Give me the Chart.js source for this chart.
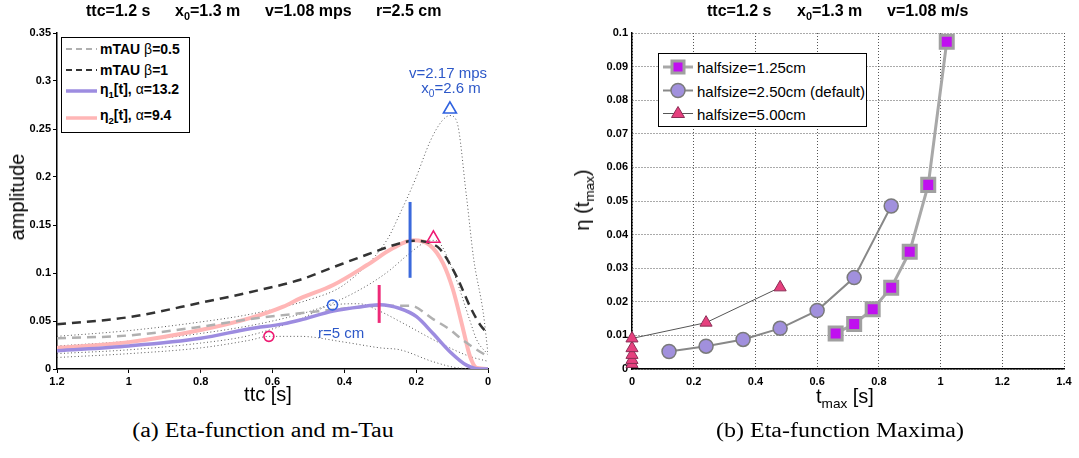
<!DOCTYPE html>
<html>
<head>
<meta charset="utf-8">
<title>Eta-function and m-Tau</title>
<script src="https://cdn.jsdelivr.net/npm/chart.js@4.4.1/dist/chart.umd.min.js"></script>
<style>
  body { margin: 0; background: #fff; }
  #page { position: relative; width: 1079px; height: 458px; overflow: hidden; font-family: "Liberation Sans", Arial, sans-serif; color: #000; }
  .pane { position: absolute; top: 0; height: 400px; }
  .t { position: absolute; white-space: nowrap; line-height: 1; }
  .hd { top: 3px; font-weight: bold; font-size: 16px; }
  sub { font-size: 0.68em; vertical-align: -0.4em; line-height: 0; }
  .leg { position: absolute; border: 1.5px solid #000; background: #fff; box-sizing: border-box; }
  .lt { position: absolute; white-space: nowrap; transform: translateY(-50%); line-height: 1; }
  .ax { position: absolute; font-size: 20px; white-space: nowrap; line-height: 1; }
  .cap { position: absolute; top: 419px; font-family: "Liberation Serif", serif; font-size: 20px; transform: translateX(-50%) scaleX(1.2); white-space: nowrap; }
  svg { position: absolute; left: 0; top: 0; }
</style>
</head>
<body>
<div id="page">
  <div class="pane" style="left:0;width:540px"><canvas id="etaChart"></canvas></div>
  <div class="pane" style="left:540px;width:539px"><canvas id="maxChart"></canvas></div>

  <!-- titles -->
  <div class="t hd" style="left:86px">ttc=1.2 s</div>
  <div class="t hd" style="left:175px">x<sub>0</sub>=1.3 m</div>
  <div class="t hd" style="left:265px">v=1.08 mps</div>
  <div class="t hd" style="left:376px">r=2.5 cm</div>
  <div class="t hd" style="left:707px">ttc=1.2 s</div>
  <div class="t hd" style="left:797px">x<sub>0</sub>=1.3 m</div>
  <div class="t hd" style="left:887px">v=1.08 m/s</div>

  <!-- axis titles -->
  <div class="ax" style="left:17px;top:197px;transform:translate(-50%,-50%) rotate(-90deg)">amplitude</div>
  <div class="ax" style="left:268px;top:394px;transform:translate(-50%,-50%)">ttc [s]</div>
  <div class="ax" style="left:582px;top:200px;transform:translate(-50%,-50%) rotate(-90deg)">η (t<sub>max</sub>)</div>
  <div class="ax" style="left:816px;top:386px">t<sub>max</sub> [s]</div>

  <!-- annotations in left panel -->
  <div class="t" style="left:448px;top:65px;transform:translateX(-50%);font-size:15px;color:#2d58c8">v=2.17 mps</div>
  <div class="t" style="left:451px;top:80px;transform:translateX(-50%);font-size:15px;color:#2d58c8">x<sub>0</sub>=2.6 m</div>
  <div class="t" style="left:318px;top:325px;font-size:15px;color:#2d58c8">r=5 cm</div>

  <!-- left legend -->
  <div class="leg" style="left:61px;top:37px;width:129px;height:96px"></div>
  <svg width="200" height="140">
    <line x1="66" y1="49" x2="97" y2="49" stroke="#b0b0b0" stroke-width="2" stroke-dasharray="6,4"/>
    <line x1="66" y1="70" x2="97" y2="70" stroke="#333" stroke-width="2" stroke-dasharray="6,4"/>
    <line x1="66" y1="91" x2="97" y2="91" stroke="#9d8ce0" stroke-width="3.5"/>
    <line x1="66" y1="118" x2="97" y2="118" stroke="#ffb6b6" stroke-width="3.5"/>
  </svg>
  <div class="lt" style="left:100px;top:49px;font-size:14px;font-weight:bold">mTAU <span style="font-weight:normal">β</span>=0.5</div>
  <div class="lt" style="left:100px;top:70px;font-size:14px;font-weight:bold">mTAU <span style="font-weight:normal">β</span>=1</div>
  <div class="lt" style="left:100px;top:89px;font-size:14px;font-weight:bold">η<sub>1</sub>[t], <span style="font-weight:normal">α</span>=13.2</div>
  <div class="lt" style="left:100px;top:115px;font-size:14px;font-weight:bold">η<sub>2</sub>[t], <span style="font-weight:normal">α</span>=9.4</div>

  <!-- right legend -->
  <div class="leg" style="left:658px;top:53px;width:209px;height:74px"></div>
  <svg width="1079" height="140">
    <line x1="663" y1="67" x2="693" y2="67" stroke="#a8a8a8" stroke-width="3"/>
    <rect x="672" y="61" width="12" height="12" fill="#c010f0" stroke="#a0a0a0" stroke-width="3"/>
    <line x1="663" y1="90.5" x2="693" y2="90.5" stroke="#888" stroke-width="2"/>
    <circle cx="678" cy="90.5" r="7" fill="#a190dd" stroke="#7a7a7a" stroke-width="1.5"/>
    <line x1="663" y1="113.5" x2="693" y2="113.5" stroke="#555" stroke-width="1"/>
    <polygon points="678,106.5 684.5,117.5 671.5,117.5" fill="#e6407e" stroke="#8b2d55" stroke-width="1"/>
  </svg>
  <div class="lt" style="left:697px;top:67px;font-size:15px">halfsize=1.25cm</div>
  <div class="lt" style="left:697px;top:90.5px;font-size:15px">halfsize=2.50cm (default)</div>
  <div class="lt" style="left:697px;top:113.5px;font-size:15px">halfsize=5.00cm</div>

  <!-- captions -->
  <div class="cap" style="left:263px">(a) Eta-function and m-Tau</div>
  <div class="cap" style="left:840px">(b) Eta-function Maxima)</div>
</div>

<script>
// ---- левая панель: eta-функции и m-Tau (ttc [s] -> amplitude) ----
const tTau05 = [1.2, 1.0, 0.8, 0.663, 0.5, 0.4, 0.3, 0.217, 0.153, 0.106, 0.07, 0.035, 0.0];
const mTau05 = [0.032, 0.035, 0.044, 0.052, 0.059, 0.063, 0.066, 0.066, 0.052, 0.041, 0.030, 0.021, 0.013];

const tTau1 = [1.2, 1.0, 0.8, 0.663, 0.523, 0.431, 0.338, 0.245, 0.208, 0.16, 0.134, 0.087, 0.05, 0.02, 0.0];
const mTau1 = [0.0465, 0.054, 0.069, 0.080, 0.093, 0.106, 0.119, 0.131, 0.1335, 0.131, 0.125, 0.096, 0.065, 0.045, 0.037];

const tEta1 = [1.2, 1.0, 0.8, 0.663, 0.57, 0.523, 0.431, 0.338, 0.301, 0.245, 0.199, 0.153, 0.106, 0.06, 0.022, 0.0];
const eta1 = [0.019, 0.024, 0.032, 0.042, 0.047, 0.051, 0.0605, 0.0656, 0.067, 0.063, 0.0545, 0.037, 0.018, 0.004, 0.0, 0.0];

const tEta2 = [1.2, 1.0, 0.8, 0.663, 0.57, 0.523, 0.431, 0.338, 0.264, 0.208, 0.162, 0.125, 0.097, 0.069, 0.05, 0.031, 0.0];
const eta2 = [0.022, 0.028, 0.0406, 0.053, 0.065, 0.0736, 0.0875, 0.108, 0.126, 0.134, 0.129, 0.110, 0.082, 0.041, 0.013, 0.001, 0.0];

// тонкие пунктирные кривые (другие параметры)
const tDotA = [1.2, 1.0, 0.8, 0.663, 0.5, 0.4, 0.282, 0.245, 0.203, 0.16, 0.129, 0.106, 0.087, 0.06, 0.04, 0.013, 0.0];
const dotA = [0.034, 0.04, 0.049, 0.057, 0.072, 0.088, 0.134, 0.162, 0.197, 0.238, 0.258, 0.264, 0.258, 0.18, 0.115, 0.058, 0.016];
const tDotB = [1.2, 1.0, 0.8, 0.6, 0.45, 0.35, 0.28, 0.22, 0.18, 0.152, 0.134, 0.1, 0.078, 0.05, 0.031, 0.0];
const dotB = [0.024, 0.029, 0.037, 0.05, 0.066, 0.084, 0.101, 0.12, 0.131, 0.134, 0.131, 0.105, 0.082, 0.05, 0.03, 0.015];
const tDotC = [1.2, 1.0, 0.8, 0.663, 0.523, 0.433, 0.36, 0.3, 0.238, 0.134, 0.05, 0.0];
const dotC = [0.016, 0.02, 0.027, 0.035, 0.052, 0.0667, 0.068, 0.06, 0.048, 0.027, 0.013, 0.008];
const tDotD = [1.2, 1.0, 0.8, 0.663, 0.61, 0.523, 0.4, 0.3, 0.245, 0.153, 0.08, 0.0];
const dotD = [0.012, 0.016, 0.022, 0.03, 0.034, 0.034, 0.028, 0.022, 0.02, 0.0076, 0.001, 0.0];

// отметки: вертикальные отрезки и маркеры
const blueBarT = [0.217, 0.217];
const blueBar = [0.095, 0.174];
const pinkBarT = [0.303, 0.303];
const pinkBar = [0.048, 0.0875];
const triT = [0.106, 0.152];
const triA = [0.2705, 0.136];
const circT = [0.433, 0.61];
const circA = [0.0667, 0.034];

// ---- правая панель: максимумы eta-функции ----
const tMaxS = [0.66, 0.72, 0.78, 0.84, 0.90, 0.96, 1.02];
const etaMaxS = [0.0106, 0.0134, 0.0178, 0.0242, 0.0349, 0.0548, 0.0974];
const tMaxM = [0.12, 0.24, 0.36, 0.48, 0.60, 0.72, 0.84];
const etaMaxM = [0.0052, 0.0068, 0.0088, 0.0121, 0.0174, 0.0272, 0.0485];
const tMaxL = [0, 0, 0, 0, 0, 0.24, 0.48];
const etaMaxL = [0.0015, 0.0027, 0.0042, 0.0062, 0.0091, 0.0138, 0.0243];

const xTicksLeft = [0, 0.2, 0.4, 0.6, 0.8, 1, 1.2];
const yTicksLeft = [0, 0.05, 0.1, 0.15, 0.2, 0.25, 0.3, 0.35];

Chart.defaults.font.family = '"Liberation Sans", Arial, sans-serif';
Chart.defaults.animation = false;

function pts(xs, ys) {
    return xs.map((x, i) => ({ x: x, y: ys[i] }));
}

function fmt(v) {
    return String(+v.toFixed(3));
}

const tickFont = { size: 11, weight: 'bold' };

function curve(xs, ys, color, width, dash, order) {
    return {
        data: pts(xs, ys),
        borderColor: color,
        borderWidth: width,
        borderDash: dash || [],
        pointRadius: 0,
        fill: false,
        cubicInterpolationMode: 'monotone',
        order: order
    };
}

function markers(xs, ys, style, radius, colors) {
    return {
        data: pts(xs, ys),
        showLine: false,
        pointStyle: style,
        pointRadius: radius,
        pointBackgroundColor: 'rgba(0,0,0,0)',
        pointBorderColor: colors,
        pointBorderWidth: 1.6,
        clip: false,
        order: 1
    };
}

// левый график
new Chart(document.getElementById('etaChart'), {
    type: 'line',
    data: {
        datasets: [
            curve(tDotA, dotA, '#555', 1, [1, 2.5], 10),
            curve(tDotB, dotB, '#555', 1, [1, 2.5], 10),
            curve(tDotC, dotC, '#555', 1, [1, 2.5], 10),
            curve(tDotD, dotD, '#555', 1, [1, 2.5], 10),
            curve(tEta2, eta2, '#ffb6b6', 4, null, 8),
            curve(tTau05, mTau05, '#b0b0b0', 2.5, [9, 6], 7),
            curve(tEta1, eta1, '#9d8ce0', 3.5, null, 6),
            curve(tTau1, mTau1, '#333333', 2.5, [9, 6], 5),
            curve(blueBarT, blueBar, '#3b69dc', 3, null, 2),
            curve(pinkBarT, pinkBar, '#ee2a78', 3, null, 2),
            markers(triT, triA, 'triangle', 7.5, ['#2f62e0', '#ee1a72']),
            markers(circT, circA, 'circle', 5, ['#2f62e0', '#ee1a72'])
        ]
    },
    options: {
        responsive: true,
        maintainAspectRatio: false,
        events: [],
        layout: { padding: { top: 33, right: 52, left: 0, bottom: 0 } },
        plugins: { legend: { display: false }, tooltip: { enabled: false } },
        scales: {
            x: {
                type: 'linear',
                reverse: true,
                min: 0,
                max: 1.2,
                afterBuildTicks: s => { s.ticks = xTicksLeft.map(v => ({ value: v })); },
                ticks: { color: '#000', font: tickFont, callback: fmt, maxRotation: 0, padding: 2 },
                grid: { drawOnChartArea: false, color: '#000', tickLength: 4 },
                border: { color: '#000', width: 1.5 },
                afterFit: s => { s.height = 31; }
            },
            y: {
                min: 0,
                max: 0.35,
                afterBuildTicks: s => { s.ticks = yTicksLeft.map(v => ({ value: v })); },
                ticks: { color: '#000', font: tickFont, callback: fmt, padding: 2 },
                grid: { drawOnChartArea: false, color: '#000', tickLength: 4 },
                border: { color: '#000', width: 1.5 },
                afterFit: s => { s.width = 57; }
            }
        }
    }
});

// правый график
new Chart(document.getElementById('maxChart'), {
    type: 'line',
    data: {
        datasets: [
            {
                label: 'halfsize=1.25cm',
                data: pts(tMaxS, etaMaxS),
                borderColor: '#a8a8a8',
                borderWidth: 3,
                pointStyle: 'rect',
                pointRadius: 9.2,
                pointBackgroundColor: '#c010f0',
                pointBorderColor: '#a0a0a0',
                pointBorderWidth: 3,
                clip: false,
                order: 1
            },
            {
                label: 'halfsize=2.50cm (default)',
                data: pts(tMaxM, etaMaxM),
                borderColor: '#888888',
                borderWidth: 2,
                pointStyle: 'circle',
                pointRadius: 7,
                pointBackgroundColor: '#a190dd',
                pointBorderColor: '#7a7a7a',
                pointBorderWidth: 1.5,
                clip: false,
                order: 2
            },
            {
                label: 'halfsize=5.00cm',
                data: pts(tMaxL, etaMaxL),
                borderColor: '#555555',
                borderWidth: 1,
                pointStyle: 'triangle',
                pointRadius: 7,
                pointBackgroundColor: '#e6407e',
                pointBorderColor: '#8b2d55',
                pointBorderWidth: 1,
                clip: false,
                order: 3
            }
        ]
    },
    options: {
        responsive: true,
        maintainAspectRatio: false,
        events: [],
        layout: { padding: { top: 33, right: 15, left: 0, bottom: 0 } },
        plugins: { legend: { display: false }, tooltip: { enabled: false } },
        scales: {
            x: {
                type: 'linear',
                min: 0,
                max: 1.4,
                ticks: { stepSize: 0.2, color: '#000', font: tickFont, callback: fmt, maxRotation: 0, padding: 6 },
                grid: { display: true, color: '#555', lineWidth: 1, drawTicks: false },
                border: { color: '#000', width: 1.5, dash: [1, 2] },
                afterFit: s => { s.height = 31; }
            },
            y: {
                min: 0,
                max: 0.1,
                ticks: { stepSize: 0.01, color: '#000', font: tickFont, callback: fmt, padding: 4 },
                grid: { display: true, color: '#555', lineWidth: 1, drawTicks: false },
                border: { color: '#000', width: 1.5, dash: [1, 2] },
                afterFit: s => { s.width = 92; }
            }
        }
    }
});
</script>
</body>
</html>
